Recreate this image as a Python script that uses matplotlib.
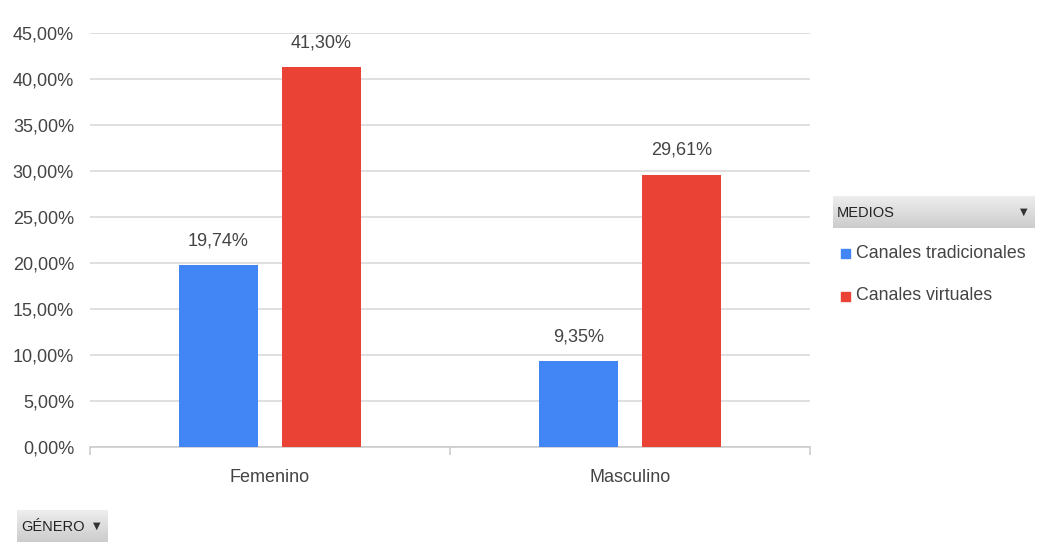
import numpy as np
import matplotlib
matplotlib.use("Agg")
from matplotlib import pyplot as plt
from matplotlib import font_manager

categorias = ["Femenino", "Masculino"]
tradicionales = [19.74, 9.35]
virtuales = [41.30, 29.61]
series = ["Canales tradicionales", "Canales virtuales"]
colores = ["#4285F4", "#EA4335"]

nombres = {f.name for f in font_manager.fontManager.ttflist}
fuente = "Liberation Sans Narrow" if "Liberation Sans Narrow" in nombres else "Liberation Sans"
plt.rcParams["font.family"] = [fuente, "DejaVu Sans"]
gris_txt = "#444444"

fig = plt.figure(figsize=(10.4, 5.55), dpi=100)
ax = fig.add_axes([90 / 1040, 1 - 447 / 555, 720 / 1040, 414 / 555])

x = np.arange(len(categorias))
ancho = 0.222
desp = 0.143
for vals, off, col in [(tradicionales, -desp, colores[0]), (virtuales, desp, colores[1])]:
    barras = ax.bar(x + off, vals, width=ancho, color=col, zorder=3)
    for b, v in zip(barras, vals):
        ax.text(b.get_x() + b.get_width() / 2, v + 1.7,
                ("%.2f%%" % v).replace(".", ","), ha="center", va="bottom",
                fontsize=13, color=gris_txt)

ax.set_xlim(-0.5, 1.5)
ax.set_ylim(0, 45)
ax.set_yticks(np.arange(0, 46, 5))
ax.set_yticklabels([("%.2f%%" % t).replace(".", ",") for t in np.arange(0, 46, 5)])
ax.yaxis.grid(True, color="#d9d9d9", linewidth=1.2, zorder=0)
ax.tick_params(axis="y", length=0, pad=11.5, labelsize=13, labelcolor=gris_txt)
ax.set_xticks(x)
ax.set_xticklabels(categorias)
ax.tick_params(axis="x", length=0, pad=16, labelsize=13, labelcolor=gris_txt)
ax.set_xticks([-0.5, 0.5, 1.5], minor=True)
ax.tick_params(axis="x", which="minor", length=6, color="#cccccc", width=1.2)
for s in ["top", "right", "left"]:
    ax.spines[s].set_visible(False)
ax.spines["bottom"].set_color("#cccccc")
ax.spines["bottom"].set_linewidth(1.2)


def boton(x0, y0, w, h, texto):
    # recuadro gris con degradado y flecha desplegable
    bx = fig.add_axes([x0 / 1040, 1 - (y0 + h) / 555, w / 1040, h / 555])
    grad = np.linspace(0.93, 0.80, 50).reshape(-1, 1)
    bx.imshow(grad, cmap="gray", vmin=0, vmax=1, aspect="auto", extent=[0, 1, 0, 1])
    bx.set_xlim(0, 1)
    bx.set_ylim(0, 1)
    bx.axis("off")
    bx.text(4 / w, 0.48, texto, ha="left", va="center", fontsize=10.5, color="#222222")
    bx.text(1 - 11 / w, 0.5, "▼", ha="center", va="center", fontsize=7,
            color="#333333", family="DejaVu Sans")


boton(833, 196, 202, 32, "MEDIOS")
boton(17, 510, 91, 32, "GÉNERO")

for i, (nom, col) in enumerate(zip(series, colores)):
    yy = 1 - (253 + 43 * i) / 555
    fig.patches.append(plt.Rectangle((841 / 1040, yy - 4.5 / 555), 9 / 1040, 9 / 555,
                                     transform=fig.transFigure, color=col))
    fig.text(856 / 1040, yy, nom, ha="left", va="center", fontsize=12.8, color=gris_txt)

fig.savefig("out.png", dpi=100)
